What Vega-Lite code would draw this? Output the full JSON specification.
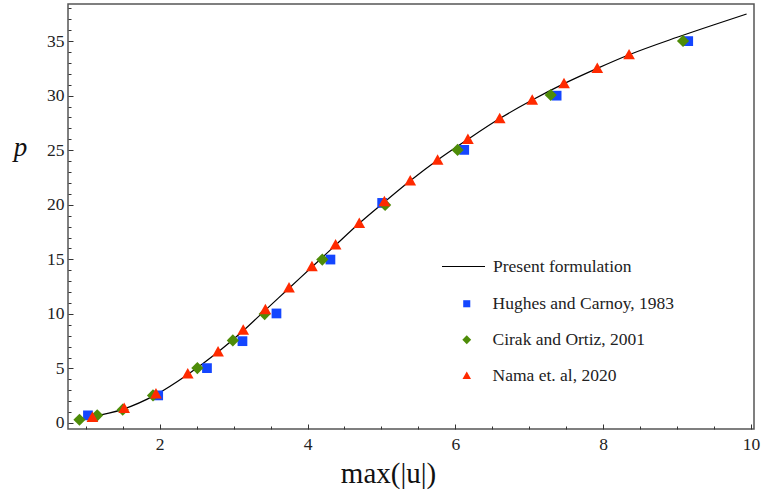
{
  "$schema": "https://vega.github.io/schema/vega-lite/v6.json",
  "width": 686,
  "height": 425,
  "autosize": {"type": "none"},
  "padding": {"left": 68, "top": 4, "right": 7, "bottom": 65},
  "background": "white",
  "config": {
    "view": {"stroke": "#555555", "strokeWidth": 1.5},
    "font": "Liberation Serif",
    "axis": {"grid": false, "domain": false, "tickColor": "#333333", "labelFont": "Liberation Serif", "labelColor": "#222222", "titleFont": "Liberation Serif", "titleFontWeight": "normal", "titleColor": "#111111"},
    "legend": {"labelFont": "Liberation Serif", "labelColor": "#222222", "labelFontSize": 17.5, "labelLimit": 400}
  },
  "datasets": {
    "curve": [
      {"x": 1.05, "y": 0.55, "series": "Present formulation"},
      {"x": 1.5, "y": 1.25, "series": "Present formulation"},
      {"x": 1.95, "y": 2.6, "series": "Present formulation"},
      {"x": 2.38, "y": 4.45, "series": "Present formulation"},
      {"x": 2.79, "y": 6.5, "series": "Present formulation"},
      {"x": 3.13, "y": 8.45, "series": "Present formulation"},
      {"x": 3.43, "y": 10.35, "series": "Present formulation"},
      {"x": 3.75, "y": 12.35, "series": "Present formulation"},
      {"x": 4.06, "y": 14.3, "series": "Present formulation"},
      {"x": 4.38, "y": 16.3, "series": "Present formulation"},
      {"x": 4.7, "y": 18.3, "series": "Present formulation"},
      {"x": 5.04, "y": 20.25, "series": "Present formulation"},
      {"x": 5.39, "y": 22.2, "series": "Present formulation"},
      {"x": 5.76, "y": 24.1, "series": "Present formulation"},
      {"x": 6.17, "y": 26.0, "series": "Present formulation"},
      {"x": 6.6, "y": 27.9, "series": "Present formulation"},
      {"x": 7.04, "y": 29.6, "series": "Present formulation"},
      {"x": 7.47, "y": 31.1, "series": "Present formulation"},
      {"x": 7.92, "y": 32.5, "series": "Present formulation"},
      {"x": 8.35, "y": 33.75, "series": "Present formulation"},
      {"x": 9.0, "y": 35.35, "series": "Present formulation"},
      {"x": 9.5, "y": 36.5, "series": "Present formulation"},
      {"x": 9.94, "y": 37.48, "series": "Present formulation"}
    ],
    "points": [
      {"x": 1.03, "y": 0.7, "source": "Hughes and Carnoy, 1983"},
      {"x": 1.98, "y": 2.53, "source": "Hughes and Carnoy, 1983"},
      {"x": 2.64, "y": 5.03, "source": "Hughes and Carnoy, 1983"},
      {"x": 3.12, "y": 7.5, "source": "Hughes and Carnoy, 1983"},
      {"x": 3.58, "y": 10.04, "source": "Hughes and Carnoy, 1983"},
      {"x": 4.31, "y": 14.98, "source": "Hughes and Carnoy, 1983"},
      {"x": 5.01, "y": 20.17, "source": "Hughes and Carnoy, 1983"},
      {"x": 6.12, "y": 25.03, "source": "Hughes and Carnoy, 1983"},
      {"x": 7.37, "y": 30.0, "source": "Hughes and Carnoy, 1983"},
      {"x": 9.15, "y": 35.0, "source": "Hughes and Carnoy, 1983"},
      {"x": 0.915, "y": 0.3, "source": "Cirak and Ortiz, 2001"},
      {"x": 1.155, "y": 0.7, "source": "Cirak and Ortiz, 2001"},
      {"x": 1.5, "y": 1.22, "source": "Cirak and Ortiz, 2001"},
      {"x": 1.91, "y": 2.53, "source": "Cirak and Ortiz, 2001"},
      {"x": 2.51, "y": 5.03, "source": "Cirak and Ortiz, 2001"},
      {"x": 2.99, "y": 7.57, "source": "Cirak and Ortiz, 2001"},
      {"x": 3.42, "y": 9.98, "source": "Cirak and Ortiz, 2001"},
      {"x": 4.2, "y": 14.98, "source": "Cirak and Ortiz, 2001"},
      {"x": 5.05, "y": 19.99, "source": "Cirak and Ortiz, 2001"},
      {"x": 6.03, "y": 25.03, "source": "Cirak and Ortiz, 2001"},
      {"x": 7.29, "y": 30.06, "source": "Cirak and Ortiz, 2001"},
      {"x": 9.08, "y": 35.01, "source": "Cirak and Ortiz, 2001"},
      {"x": 1.09, "y": 0.51, "source": "Nama et. al, 2020"},
      {"x": 1.52, "y": 1.34, "source": "Nama et. al, 2020"},
      {"x": 1.95, "y": 2.68, "source": "Nama et. al, 2020"},
      {"x": 2.38, "y": 4.51, "source": "Nama et. al, 2020"},
      {"x": 2.79, "y": 6.53, "source": "Nama et. al, 2020"},
      {"x": 3.13, "y": 8.51, "source": "Nama et. al, 2020"},
      {"x": 3.43, "y": 10.4, "source": "Nama et. al, 2020"},
      {"x": 3.75, "y": 12.39, "source": "Nama et. al, 2020"},
      {"x": 4.06, "y": 14.34, "source": "Nama et. al, 2020"},
      {"x": 4.38, "y": 16.33, "source": "Nama et. al, 2020"},
      {"x": 4.7, "y": 18.3, "source": "Nama et. al, 2020"},
      {"x": 5.04, "y": 20.3, "source": "Nama et. al, 2020"},
      {"x": 5.39, "y": 22.2, "source": "Nama et. al, 2020"},
      {"x": 5.76, "y": 24.1, "source": "Nama et. al, 2020"},
      {"x": 6.17, "y": 26.0, "source": "Nama et. al, 2020"},
      {"x": 6.6, "y": 27.9, "source": "Nama et. al, 2020"},
      {"x": 7.04, "y": 29.6, "source": "Nama et. al, 2020"},
      {"x": 7.47, "y": 31.1, "source": "Nama et. al, 2020"},
      {"x": 7.92, "y": 32.5, "source": "Nama et. al, 2020"},
      {"x": 8.35, "y": 33.75, "source": "Nama et. al, 2020"}
    ]
  },
  "resolve": {"axis": {"x": "independent", "y": "independent"}},
  "layer": [
    {
      "data": {"name": "curve"},
      "mark": {"type": "line", "strokeWidth": 1.2, "interpolate": "monotone"},
      "encoding": {
        "x": {"field": "x", "type": "quantitative", "scale": {"domain": [0.76, 10.04], "nice": false, "zero": false},
          "axis": {"orient": "bottom", "values": [2, 4, 6, 8, 10], "ticks": false, "labelFontSize": 17.5, "labelPadding": 6, "labelOverlap": false, "labelFlush": false, "title": "max(|u|)", "titleFontSize": 29, "titleX": 320, "titleY": 53, "titleBaseline": "alphabetic", "titleAlign": "center"}},
        "y": {"field": "y", "type": "quantitative", "scale": {"domain": [-0.55, 38.4], "nice": false, "zero": false},
          "axis": {"orient": "left", "values": [0, 5, 10, 15, 20, 25, 30, 35], "ticks": false, "labelFontSize": 17.5, "labelPadding": 4, "labelOverlap": false, "labelFlush": false, "title": "p", "titleFontSize": 27, "titleFontStyle": "italic", "titleAngle": 0, "titleX": -48, "titleY": 151, "titleBaseline": "alphabetic", "titleAlign": "center"}},
        "stroke": {"field": "series", "type": "nominal", "scale": {"range": ["black"]},
          "legend": {"title": null, "orient": "none", "legendX": 373, "legendY": 240, "symbolType": "stroke", "symbolSize": 1849, "symbolStrokeWidth": 1.2, "labelOffset": 7, "padding": 0}}
      }
    },
    {
      "data": {"name": "curve"},
      "mark": {"type": "point", "opacity": 0},
      "encoding": {
        "x": {"field": "x", "type": "quantitative",
          "axis": {"orient": "bottom", "values": [2, 4, 6, 8, 10], "labels": false, "tickSize": -5, "title": null}},
        "y": {"field": "y", "type": "quantitative",
          "axis": {"orient": "left", "values": [0, 5, 10, 15, 20, 25, 30, 35], "labels": false, "tickSize": -5, "title": null}}
      }
    },
    {
      "data": {"name": "points"},
      "mark": {"type": "point", "filled": true, "opacity": 1, "size": 95},
      "encoding": {
        "x": {"field": "x", "type": "quantitative",
          "axis": {"orient": "bottom", "values": [1, 1.5, 2.5, 3, 3.5, 4.5, 5, 5.5, 6.5, 7, 7.5, 8.5, 9, 9.5], "labels": false, "tickSize": -3, "title": null}},
        "y": {"field": "y", "type": "quantitative",
          "axis": {"orient": "left", "values": [1, 2, 3, 4, 6, 7, 8, 9, 11, 12, 13, 14, 16, 17, 18, 19, 21, 22, 23, 24, 26, 27, 28, 29, 31, 32, 33, 34, 36, 37, 38], "labels": false, "tickSize": -3, "title": null}},
        "fill": {"field": "source", "type": "nominal",
          "scale": {"domain": ["Hughes and Carnoy, 1983", "Cirak and Ortiz, 2001", "Nama et. al, 2020"], "range": ["#1446ff", "#4e8c08", "#ff2a00"]},
          "legend": {"title": null, "orient": "none", "legendX": 390, "legendY": 291, "symbolSize": 50, "labelOffset": 17, "rowPadding": 17, "padding": 0}},
        "shape": {"field": "source", "type": "nominal",
          "scale": {"domain": ["Hughes and Carnoy, 1983", "Cirak and Ortiz, 2001", "Nama et. al, 2020"], "range": ["square", "M0,-1.25L1.25,0L0,1.25L-1.25,0Z", "M0,-1.2L1.2,0.95L-1.2,0.95Z"]}}
      }
    }
  ]
}
